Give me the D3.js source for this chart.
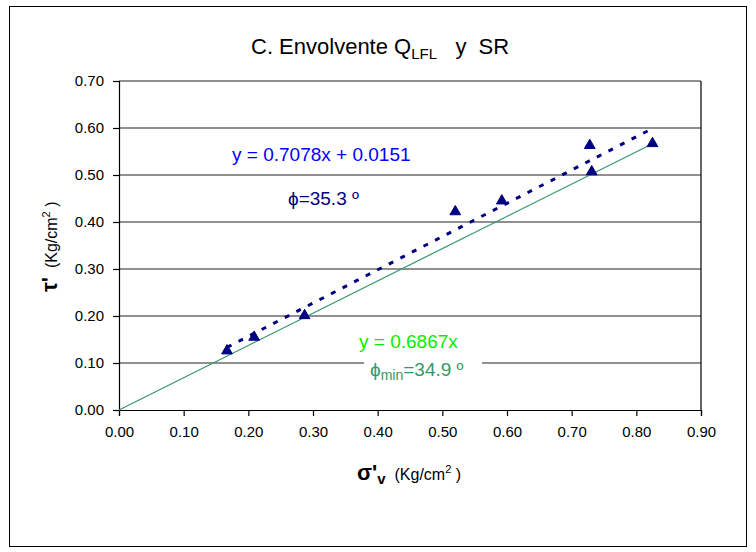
<!DOCTYPE html>
<html>
<head>
<meta charset="utf-8">
<script src="https://cdn.jsdelivr.net/npm/d3@7"></script>
<style>
  html, body { margin: 0; padding: 0; background: #fff; }
  svg { display: block; font-family: "Liberation Sans", Arial, sans-serif; }
</style>
</head>
<body>
<svg id="chart" width="756" height="552"></svg>
<script>
// ---- data ----
const sigmaV = [0.167, 0.209, 0.287, 0.520, 0.592, 0.728, 0.731, 0.825];
const tau    = [0.126, 0.155, 0.201, 0.422, 0.445, 0.563, 0.507, 0.567];
const xTicks = [0.0, 0.1, 0.2, 0.3, 0.4, 0.5, 0.6, 0.7, 0.8, 0.9];
const yTicks = [0.0, 0.1, 0.2, 0.3, 0.4, 0.5, 0.6, 0.7];
const trendFit = [0.7078, 0.0151];   // slope, intercept (dashed)
const trendMin = [0.6867, 0.0];      // slope, intercept through origin
const minLineX = [0.0, 0.825];
const fitLineX = [0.167, 0.825];

const svg = d3.select("#chart");
const plot = { left: 119, right: 701, top: 81, bottom: 410 };

// outer chart border
svg.append("rect").attr("x", 9.5).attr("y", 6.5).attr("width", 737).attr("height", 540)
  .attr("fill", "#fff").attr("stroke", "#000").attr("stroke-width", 1);

const x = d3.scaleLinear().domain([0, 0.9]).range([plot.left, plot.right]);
const y = d3.scaleLinear().domain([0, 0.7]).range([plot.bottom, plot.top]);

// gridlines
svg.append("g").selectAll("line").data(yTicks.filter(d => d > 0)).join("line")
  .attr("x1", plot.left).attr("x2", plot.right)
  .attr("y1", d => y(d)).attr("y2", d => y(d))
  .attr("stroke", "#222").attr("stroke-width", 1.2);

// right border of plot
svg.append("line").attr("x1", plot.right).attr("x2", plot.right)
  .attr("y1", plot.top).attr("y2", plot.bottom).attr("stroke", "#000").attr("stroke-width", 1.2);

// axes
const fmt = d3.format(".2f");
const xAxis = svg.append("g").attr("transform", `translate(0,${plot.bottom})`)
  .call(d3.axisBottom(x).tickValues(xTicks).tickFormat(fmt).tickSize(6).tickPadding(10));
const yAxis = svg.append("g").attr("transform", `translate(${plot.left},0)`)
  .call(d3.axisLeft(y).tickValues(yTicks).tickFormat(fmt).tickSize(6).tickPadding(9));
[xAxis, yAxis].forEach(g => {
  g.select(".domain").attr("stroke", "#000").attr("stroke-width", 1.2);
  g.selectAll(".tick line").attr("stroke", "#000").attr("stroke-width", 1.2);
  g.selectAll(".tick text").attr("fill", "#000").style("font-size", "15px")
    .style("font-family", "'Liberation Sans', Arial, sans-serif");
});

// minimum envelope line (through origin)
const line = d3.line().x(d => x(d[0])).y(d => y(d[1]));
svg.append("path")
  .datum(minLineX.map(v => [v, trendMin[0] * v + trendMin[1]]))
  .attr("d", line).attr("fill", "none").attr("stroke", "#339966").attr("stroke-width", 1.2);

// fitted trend line (dashed)
svg.append("path")
  .datum(fitLineX.map(v => [v, trendFit[0] * v + trendFit[1]]))
  .attr("d", line).attr("fill", "none").attr("stroke", "#000080")
  .attr("stroke-width", 3).attr("stroke-dasharray", "5,8");

// points
const tri = d3.symbol().type(d3.symbolTriangle).size(50);
svg.append("g").selectAll("path").data(sigmaV.map((v, i) => [v, tau[i]])).join("path")
  .attr("d", tri)
  .attr("transform", d => `translate(${x(d[0])},${y(d[1])})`)
  .attr("fill", "#000080").attr("stroke", "#000080").attr("stroke-width", 1);

// title
const title = svg.append("text").attr("x", 251).attr("y", 54)
  .style("font-size", "22px").attr("fill", "#000");
title.append("tspan").text("C. Envolvente Q");
title.append("tspan").attr("dy", 5).style("font-size", "15px").text("LFL");
title.append("tspan").attr("dy", -5).text("\u00a0\u00a0 y \u00a0SR");

// equation labels
svg.append("text").attr("x", 232).attr("y", 161).style("font-size", "19px")
  .attr("fill", "#0000ff").text("y = 0.7078x + 0.0151");
svg.append("text").attr("x", 288).attr("y", 205).style("font-size", "19px")
  .attr("fill", "#000080").text("\u03d5=35.3 \u00ba");

svg.append("text").attr("x", 359).attr("y", 348).style("font-size", "19px")
  .attr("fill", "#00ee00").text("y = 0.6867x");

// phi_min label with white box
svg.append("rect").attr("x", 364).attr("y", 356).attr("width", 118).attr("height", 28)
  .attr("fill", "#fff");
const pm = svg.append("text").attr("x", 370).attr("y", 376).style("font-size", "19px")
  .attr("fill", "#339966");
pm.append("tspan").text("\u03d5");
pm.append("tspan").attr("dy", 4).style("font-size", "14px").text("min");
pm.append("tspan").attr("dy", -4).text("=34.9 \u00ba");

// x axis title
const xt = svg.append("text").attr("x", 357).attr("y", 480).attr("fill", "#000");
xt.append("tspan").style("font-size", "22px").style("font-weight", "bold").text("\u03c3'");
xt.append("tspan").attr("dy", 4).style("font-size", "15px").style("font-weight", "bold").text("v");
xt.append("tspan").attr("dy", -4).style("font-size", "16px").text("\u00a0 (Kg/cm");
xt.append("tspan").attr("dy", -7).style("font-size", "11px").text("2");
xt.append("tspan").attr("dy", 7).style("font-size", "16px").text(" )");

// y axis title (rotated)
const yt = svg.append("text").attr("transform", "translate(57,292) rotate(-90)").attr("fill", "#000");
yt.append("tspan").style("font-size", "22px").style("font-weight", "bold").text("\u03c4'");
yt.append("tspan").style("font-size", "16px").text("\u00a0 (Kg/cm");
yt.append("tspan").attr("dy", -7).style("font-size", "11px").text("2");
yt.append("tspan").attr("dy", 7).style("font-size", "16px").text(" )");
</script>
</body>
</html>
